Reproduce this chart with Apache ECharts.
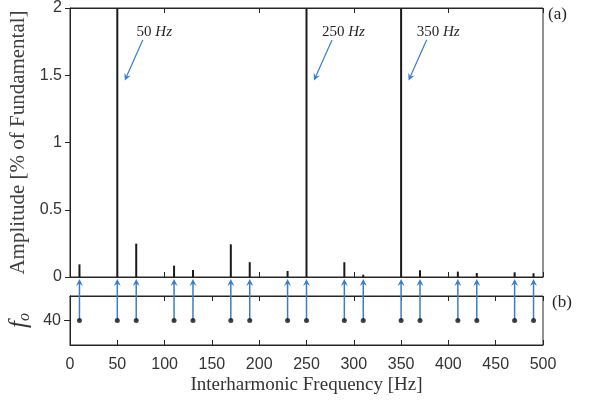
<!DOCTYPE html>
<html>
<head>
<meta charset="utf-8">
<script src="https://cdn.jsdelivr.net/npm/echarts@6/dist/echarts.min.js"></script>
<style>html,body{margin:0;padding:0;background:#fff;}#c{width:596px;height:405px;}</style>
</head>
<body>
<div id="c"></div>
<script>
// ---- data ----
const freqs = [10, 50, 70, 110, 130, 170, 190, 230, 250, 290, 310, 350, 370, 410, 430, 470, 490];
const amplitudes = [0.094, 100, 0.248, 0.084, 0.052, 0.243, 0.11, 0.045, 5, 0.11, 0.017, 3, 0.05, 0.04, 0.03, 0.035, 0.028];
const fo = [40, 40, 40, 40, 40, 40, 40, 40, 40, 40, 40, 40, 40, 40, 40, 40, 40];
const annotFreqs = [50, 250, 350];
const annotLabels = ['50', '250', '350'];
const yTicksA = [0, 0.5, 1, 1.5, 2];
const yTicksB = [40];

const axisColor = '#262626';
const labelColor = '#333333';
const arrowColor = '#3d7dc6';

const chart = echarts.init(document.getElementById('c'), null, {renderer: 'canvas'});

function arrowHead(tx, ty, dx, dy, len, half, back) {
  const L = Math.sqrt(dx*dx + dy*dy); const ux = dx/L, uy = dy/L; const px = -uy, py = ux;
  return {
    type: 'polygon',
    shape: {points: [[tx, ty], [tx - ux*len + px*half, ty - uy*len + py*half], [tx - ux*back, ty - uy*back], [tx - ux*len - px*half, ty - uy*len - py*half]]},
    style: {fill: arrowColor}
  };
}

const option = {
  animation: false,
  backgroundColor: '#fff',
  grid: [
    {left: 70, top: 8, width: 473, height: 269, show: true, borderColor: axisColor, borderWidth: 1, containLabel: false, outerBoundsMode: 'none'},
    {left: 70, top: 296, width: 473, height: 49, show: true, borderColor: axisColor, borderWidth: 1, containLabel: false, outerBoundsMode: 'none'}
  ],
  xAxis: [
    {gridIndex: 0, type: 'value', min: 0, max: 500, interval: 100, position: 'bottom',
      axisLine: {show: true, lineStyle: {color: axisColor}}, axisTick: {inside: true, length: 5, lineStyle: {color: axisColor}},
      axisLabel: {show: false}, splitLine: {show: false}},
    {gridIndex: 0, type: 'value', min: 0, max: 500, interval: 100, position: 'top',
      axisLine: {show: true, lineStyle: {color: axisColor}}, axisTick: {inside: true, length: 5, lineStyle: {color: axisColor}},
      axisLabel: {show: false}, splitLine: {show: false}},
    {gridIndex: 1, type: 'value', min: 0, max: 500, interval: 50, position: 'bottom',
      axisLine: {show: true, lineStyle: {color: axisColor}}, axisTick: {inside: true, length: 5, lineStyle: {color: axisColor}},
      axisLabel: {show: true, color: labelColor, fontFamily: 'Liberation Sans, Arial, sans-serif', fontSize: 16, margin: 12},
      splitLine: {show: false},
      name: 'Interharmonic Frequency [Hz]', nameLocation: 'middle', nameGap: 31,
      nameTextStyle: {fontFamily: 'Liberation Serif, Times New Roman, serif', fontSize: 19, color: labelColor}},
    {gridIndex: 1, type: 'value', min: 0, max: 500, interval: 50, position: 'top',
      axisLine: {show: true, lineStyle: {color: axisColor}}, axisTick: {inside: true, length: 5, lineStyle: {color: axisColor}},
      axisLabel: {show: false}, splitLine: {show: false}}
  ],
  yAxis: [
    {gridIndex: 0, type: 'value', min: 0, max: 2, interval: 0.5,
      axisLine: {show: true, lineStyle: {color: axisColor}}, axisTick: {show: true, inside: false, length: 5, lineStyle: {color: axisColor}},
      axisLabel: {color: labelColor, fontFamily: 'Liberation Sans, Arial, sans-serif', fontSize: 16, margin: 8, customValues: yTicksA},
      splitLine: {show: false},
      name: 'Amplitude [% of Fundamental]', nameLocation: 'middle', nameGap: 37, nameRotate: 90,
      nameTextStyle: {fontFamily: 'Liberation Serif, Times New Roman, serif', fontSize: 21, color: '#404040'}},
    {gridIndex: 1, type: 'value', min: 30, max: 50, interval: 10,
      axisLine: {show: true, lineStyle: {color: axisColor}},
      axisTick: {show: true, inside: false, length: 6, customValues: yTicksB, lineStyle: {color: axisColor}},
      axisLabel: {color: labelColor, fontFamily: 'Liberation Sans, Arial, sans-serif', fontSize: 16, margin: 9, customValues: yTicksB},
      splitLine: {show: false},
      name: '{f|f}{o|o}', nameLocation: 'middle', nameGap: 37, nameRotate: 90,
      nameTextStyle: {rich: {
        f: {fontFamily: 'Liberation Serif, Times New Roman, serif', fontStyle: 'italic', fontSize: 25, color: labelColor},
        o: {fontFamily: 'Liberation Serif, Times New Roman, serif', fontStyle: 'italic', fontSize: 16, color: labelColor, padding: [10, 0, 0, 0]}
      }}},
    {gridIndex: 1, type: 'value', min: 30, max: 50, interval: 10, position: 'right',
      axisLine: {show: true, lineStyle: {color: axisColor}},
      axisTick: {show: true, inside: true, length: 5, customValues: yTicksB, lineStyle: {color: axisColor}},
      axisLabel: {show: false}, splitLine: {show: false}}
  ],
  series: [
    {type: 'bar', xAxisIndex: 0, yAxisIndex: 0, barWidth: 2, clip: true,
      data: freqs.map((f, i) => [f, amplitudes[i]]),
      itemStyle: {color: '#1a1a1a'}},
    {type: 'custom', xAxisIndex: 2, yAxisIndex: 1, clip: false, z: 3,
      data: freqs.map((f, i) => [f, fo[i]]),
      renderItem: function (params, api) {
        const p = api.coord([api.value(0), api.value(1)]);
        const topY = params.coordSys.y - 17;
        return {type: 'group', children: [
          {type: 'line', shape: {x1: p[0], y1: p[1], x2: p[0], y2: topY + 4}, style: {stroke: arrowColor, lineWidth: 1.5}},
          arrowHead(p[0], topY, 0, -1, 7, 3.5, 4.5)
        ]};
      }},
    {type: 'scatter', xAxisIndex: 2, yAxisIndex: 1, symbol: 'circle', symbolSize: 5, z: 4,
      data: freqs.map((f, i) => [f, fo[i]]),
      itemStyle: {color: '#111'}},
    {type: 'custom', xAxisIndex: 0, yAxisIndex: 0, clip: false, z: 5,
      data: annotFreqs.map((f, i) => [f, 0, annotLabels[i]]),
      renderItem: function (params, api) {
        const p = api.coord([api.value(0), 0]);
        const gy = params.coordSys.y;
        const x0 = p[0] + 25.5, y0 = gy + 32, x1 = p[0] + 7.5, y1 = gy + 72.5;
        const dx = x1 - x0, dy = y1 - y0;
        const L = Math.sqrt(dx*dx + dy*dy);
        return {type: 'group', children: [
          {type: 'text', x: p[0] + 37, y: gy + 24,
            style: {text: '{n|' + annotLabels[params.dataIndex] + ' }{h|Hz}', align: 'center', verticalAlign: 'middle',
              rich: {
                n: {fontFamily: 'Liberation Serif, serif', fontSize: 15, fill: '#262626'},
                h: {fontFamily: 'Liberation Serif, serif', fontStyle: 'italic', fontSize: 15, fill: '#262626'}
              }}},
          {type: 'line', shape: {x1: x0, y1: y0, x2: x1 - dx/L*4, y2: y1 - dy/L*4}, style: {stroke: arrowColor, lineWidth: 1.2}},
          arrowHead(x1, y1, dx, dy, 7, 3.5, 4.5)
        ]};
      }}
  ],
  graphic: [
    {type: 'text', left: 548, top: 6, style: {text: '(a)', fontFamily: 'Liberation Serif, serif', fontSize: 17, fill: '#262626'}},
    {type: 'text', left: 552, top: 294, style: {text: '(b)', fontFamily: 'Liberation Serif, serif', fontSize: 17, fill: '#262626'}}
  ]
};
chart.setOption(option);
</script>
</body>
</html>
